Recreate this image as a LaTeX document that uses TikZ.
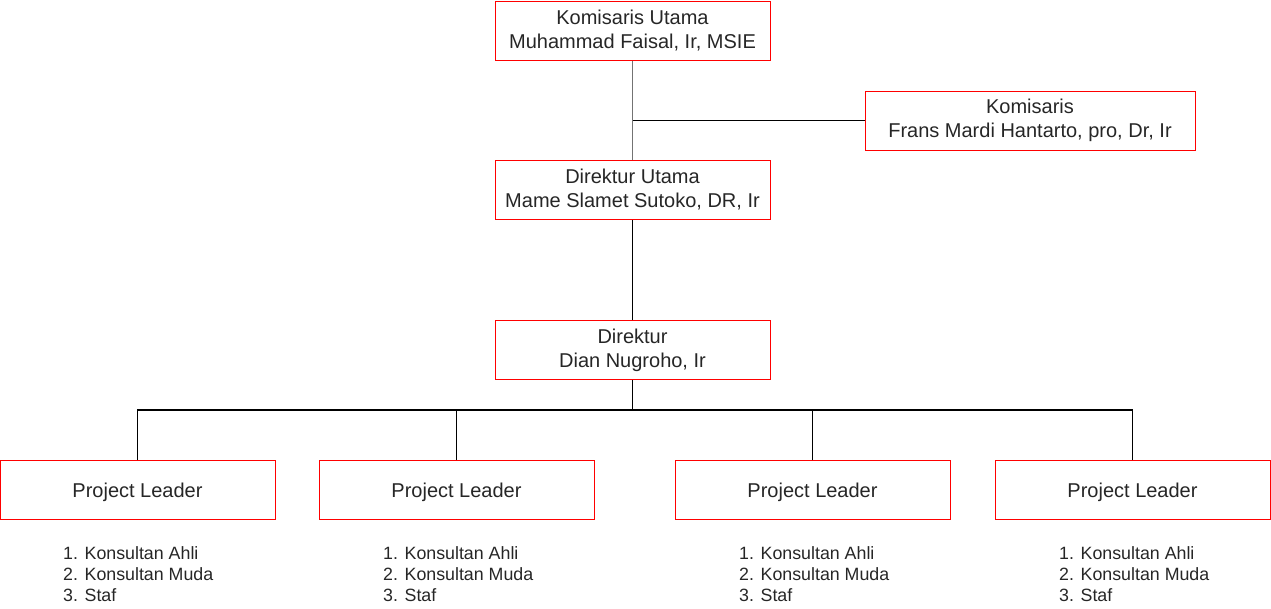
\documentclass[tikz,border=0pt]{standalone}
\usepackage{fontspec}
\setmainfont{Liberation Sans}
\begin{document}
\begin{tikzpicture}[x=1pt,y=-1pt,
  box/.style={draw=red, line width=1pt, minimum width=275pt, minimum height=59pt, inner sep=0pt,
    align=center, font=\fontsize{20}{24}\selectfont, text=black!85,
    execute at begin node={\rule{0pt}{0.93em}}},
  lst/.style={align=left, inner sep=0pt, font=\fontsize{17.8}{21}\selectfont, text=black!85},
  conn/.style={line width=1.2pt, black}]
\useasboundingbox (0,0) rectangle (1271,608);
\node[box] (ku) at (632.5,30.5) {Komisaris Utama\\Muhammad Faisal, Ir, MSIE};
\node[box, minimum width=330pt] (k) at (1030,120.5) {Komisaris\\Frans Mardi Hantarto, pro, Dr, Ir};
\node[box] (du) at (632.5,190) {Direktur Utama\\Mame Slamet Sutoko, DR, Ir};
\node[box] (d) at (632.5,350) {Direktur\\Dian Nugroho, Ir};
\node[box] (p1) at (137.5,490) {Project Leader};
\node[box] (p2) at (456.5,490) {Project Leader};
\node[box] (p3) at (812.5,490) {Project Leader};
\node[box] (p4) at (1132.5,490) {Project Leader};
\foreach \i/\x in {1/63,2/383,3/739,4/1059}{
  \node[lst, anchor=north west] (l\i) at (\x,546.5) {1. Konsultan Ahli\\2. Konsultan Muda\\3. Staf};
}
\draw[conn, black!55] (ku.south) -- (du.north);
\coordinate (kj) at (633,120.5);
\draw[conn] (kj) -- (k.west);
\draw[conn] (du.south) -- (d.north);
\coordinate (bus) at (632.5,410);
\draw[conn] (d.south) -- (bus);
\draw[conn] (p1.north) |- (bus) -| (p4.north);
\draw[conn] (p2.north) -- (p2.north |- bus);
\draw[conn] (p3.north) -- (p3.north |- bus);
\end{tikzpicture}
\end{document}
